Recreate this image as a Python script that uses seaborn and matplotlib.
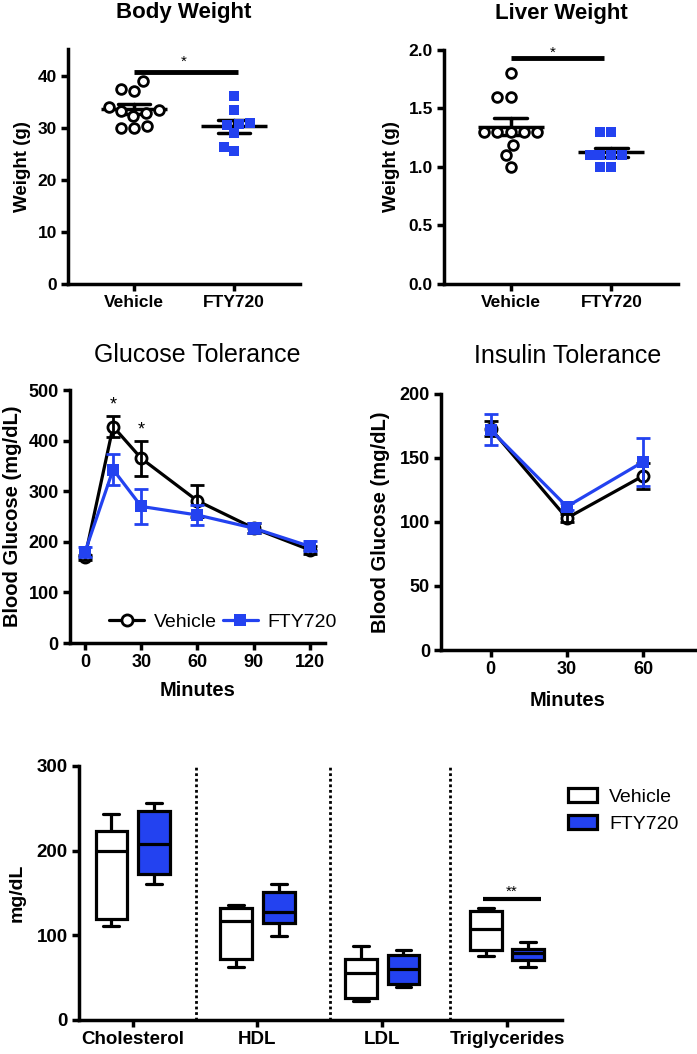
import matplotlib
matplotlib.use("Agg")
import matplotlib.pyplot as plt
import numpy as np
import pandas as pd
import seaborn as sns

# values
groups = ["Vehicle", "FTY720"]

body_vehicle = [39.0, 37.2, 37.5, 32.8, 33.3, 33.5, 34.0, 32.3, 30.3, 29.9, 30.0]
body_fty = [36.2, 33.4, 31.0, 30.8, 30.5, 29.0, 26.3, 25.6]

liver_vehicle = [1.80, 1.60, 1.60, 1.30, 1.30, 1.30, 1.30, 1.30, 1.19, 1.10, 1.00]
liver_fty = [1.30, 1.30, 1.10, 1.10, 1.10, 1.10, 1.00, 1.00]

gtt_minutes = [0, 15, 30, 60, 90, 120]
gtt_vehicle = [170, 428, 365, 281, 227, 184]
gtt_vehicle_sem = [5, 21, 35, 31, 10, 8]
gtt_fty = [180, 343, 270, 253, 227, 191]
gtt_fty_sem = [10, 31, 34, 20, 10, 10]

itt_minutes = [0, 30, 60]
itt_vehicle = [173, 103, 136]
itt_vehicle_sem = [6, 3, 10]
itt_fty = [172, 112, 147]
itt_fty_sem = [12, 3, 19]

lipids = ["Cholesterol", "HDL", "LDL", "Triglycerides"]
# min, Q1, median, Q3, max
lipid_vehicle = [[111, 119, 199, 223, 243], [63, 72, 117, 132, 136],
                 [22, 26, 56, 72, 87], [75, 83, 107, 129, 132]]
lipid_fty = [[160, 172, 208, 247, 256], [99, 115, 127, 151, 160],
             [39, 43, 60, 77, 83], [63, 71, 79, 84, 92]]

BLUE = "#2342F0"

sns.set_style("ticks")
plt.rcParams["font.family"] = ["Liberation Sans", "DejaVu Sans"]
plt.rcParams["text.color"] = "black"
plt.rcParams["axes.labelcolor"] = "black"
plt.rcParams["axes.edgecolor"] = "black"
plt.rcParams["xtick.color"] = "black"
plt.rcParams["ytick.color"] = "black"
plt.rcParams["axes.linewidth"] = 2.5
plt.rcParams["xtick.major.width"] = 2.5
plt.rcParams["ytick.major.width"] = 2.5
plt.rcParams["xtick.major.size"] = 5
plt.rcParams["ytick.major.size"] = 5

fig = plt.figure(figsize=(6.97, 10.54), dpi=100)


def style_axes(ax, tick_size):
    sns.despine(ax=ax)
    for lab in ax.get_xticklabels() + ax.get_yticklabels():
        lab.set_fontweight("bold")
        lab.set_fontsize(tick_size)
    ax.tick_params(colors="black", pad=3)


def dot_panel(ax, vehicle, fty, title, ylim, yticks, fmt, sig_y, star_x, star_y, bar_end):
    df = pd.DataFrame({"group": ["Vehicle"] * len(vehicle) + ["FTY720"] * len(fty),
                       "value": vehicle + fty})
    sns.swarmplot(data=df[df["group"] == "Vehicle"], x="group", y="value", order=groups,
                  color="white", edgecolor="black", linewidth=2, size=7, marker="o", ax=ax)
    sns.swarmplot(data=df[df["group"] == "FTY720"], x="group", y="value", order=groups,
                  color=BLUE, linewidth=0, size=7.5, marker="s", ax=ax)
    sns.pointplot(data=df, x="group", y="value", order=groups, errorbar="se",
                  color="black", marker="_", markersize=48, markeredgewidth=2.5,
                  linestyle="none", capsize=0.32, err_kws={"linewidth": 2.5}, ax=ax)
    ax.plot([0, bar_end], [sig_y, sig_y], color="black", lw=3.5, solid_capstyle="butt")
    ax.text(star_x, star_y, "*", ha="center", va="center", fontsize=11)
    ax.set_ylim(*ylim)
    ax.set_yticks(yticks)
    ax.set_yticklabels([fmt.format(t) for t in yticks])
    ax.set_xlim(-0.66, 1.66)
    ax.set_xlabel("")
    ax.set_ylabel("Weight (g)", fontsize=13.5, fontweight="bold")
    ax.set_title(title, fontsize=16, fontweight="bold", pad=22)
    style_axes(ax, 12.5)


# Body weight
ax1 = fig.add_axes([0.0976, 0.7306, 0.3329, 0.2230])
dot_panel(ax1, body_vehicle, body_fty, "Body Weight", (0, 45.2), [0, 10, 20, 30, 40],
          "{:.0f}", 40.8, 0.5, 42.8, 1.04)
ax1.yaxis.set_label_coords(-0.16, 0.5)

# Liver weight
ax2 = fig.add_axes([0.637, 0.7306, 0.3357, 0.2220])
dot_panel(ax2, liver_vehicle, liver_fty, "Liver Weight", (0, 2.0),
          [0.0, 0.5, 1.0, 1.5, 2.0], "{:.1f}", 1.93, 0.42, 1.975, 0.93)
ax2.yaxis.set_label_coords(-0.19, 0.5)


def curve_panel(ax, minutes, veh, veh_sem, fty, fty_sem):
    sns.lineplot(x=minutes, y=veh, color="black", marker="o", markersize=8,
                 markerfacecolor="white", markeredgecolor="black", markeredgewidth=2,
                 linewidth=2.3, label="Vehicle", ax=ax)
    ax.errorbar(minutes, veh, yerr=veh_sem, fmt="none", ecolor="black",
                elinewidth=2, capsize=5, capthick=2)
    sns.lineplot(x=minutes, y=fty, color=BLUE, marker="s", markersize=8,
                 markeredgewidth=0, linewidth=2.3, label="FTY720", ax=ax)
    ax.errorbar(minutes, fty, yerr=fty_sem, fmt="none", ecolor=BLUE,
                elinewidth=2, capsize=5, capthick=2)
    ax.set_xlabel("Minutes", fontsize=14.5, fontweight="bold")
    ax.set_ylabel("Blood Glucose (mg/dL)", fontsize=14.5, fontweight="bold")


# Glucose tolerance
ax3 = fig.add_axes([0.1004, 0.3899, 0.3659, 0.2400])
curve_panel(ax3, gtt_minutes, gtt_vehicle, gtt_vehicle_sem, gtt_fty, gtt_fty_sem)
ax3.set_xlim(-8, 128)
ax3.set_ylim(0, 500)
ax3.set_xticks([0, 30, 60, 90, 120])
ax3.set_yticks([0, 100, 200, 300, 400, 500])
ax3.text(15, 470, "*", ha="center", va="center", fontsize=13)
ax3.text(30, 421, "*", ha="center", va="center", fontsize=13)
ax3.legend(loc="lower center", bbox_to_anchor=(0.6, -0.02), ncol=2, frameon=False,
           fontsize=14, handlelength=1.8, columnspacing=0.3, handletextpad=0.5)
ax3.set_title("Glucose Tolerance", fontsize=18, pad=20)
ax3.yaxis.set_label_coords(-0.19, 0.5)
ax3.xaxis.set_label_coords(0.5, -0.15)
style_axes(ax3, 13)

# Insulin tolerance
ax4 = fig.add_axes([0.6327, 0.3833, 0.3644, 0.2429])
curve_panel(ax4, itt_minutes, itt_vehicle, itt_vehicle_sem, itt_fty, itt_fty_sem)
ax4.get_legend().remove()
ax4.set_xlim(-19.5, 80.4)
ax4.set_ylim(0, 200)
ax4.set_xticks([0, 30, 60])
ax4.set_yticks([0, 50, 100, 150, 200])
ax4.set_title("Insulin Tolerance", fontsize=18, pad=22)
ax4.yaxis.set_label_coords(-0.2, 0.5)
ax4.xaxis.set_label_coords(0.5, -0.16)
style_axes(ax4, 13)

# Lipid box plots
rows = []
for lip, v, f in zip(lipids, lipid_vehicle, lipid_fty):
    rows += [(lip, "Vehicle", val) for val in v]
    rows += [(lip, "FTY720", val) for val in f]
box = pd.DataFrame(rows, columns=["lipid", "group", "value"])

ax5 = fig.add_axes([0.1133, 0.0323, 0.693, 0.241])
sns.boxplot(data=box, x="lipid", y="value", hue="group", order=lipids, hue_order=groups,
            palette={"Vehicle": "white", "FTY720": BLUE}, whis=(0, 100), width=0.68,
            gap=0.25, linewidth=2.3, linecolor="black", saturation=1, ax=ax5)
for xv in [0.51, 1.58, 2.54]:
    ax5.axvline(xv, color="black", ls=(0, (1, 1)), lw=2)
ax5.plot([2.81, 3.27], [143, 143], color="black", lw=3, solid_capstyle="butt")
ax5.text(3.04, 151, "**", ha="center", va="center", fontsize=11)
ax5.set_xlim(-0.43, 3.44)
ax5.set_ylim(0, 300)
ax5.set_yticks([0, 100, 200, 300])
ax5.set_xlabel("")
ax5.set_ylabel("mg/dL", fontsize=14, fontweight="bold")
ax5.yaxis.set_label_coords(-0.11, 0.5)
sns.move_legend(ax5, "upper left", bbox_to_anchor=(1.005, 0.93), title=None,
                frameon=False, fontsize=14, handlelength=1.5, handleheight=0.8,
                handletextpad=0.6, borderaxespad=0, borderpad=0.2, labelspacing=0.45)
style_axes(ax5, 13.5)

fig.savefig("out.png", dpi=100)
